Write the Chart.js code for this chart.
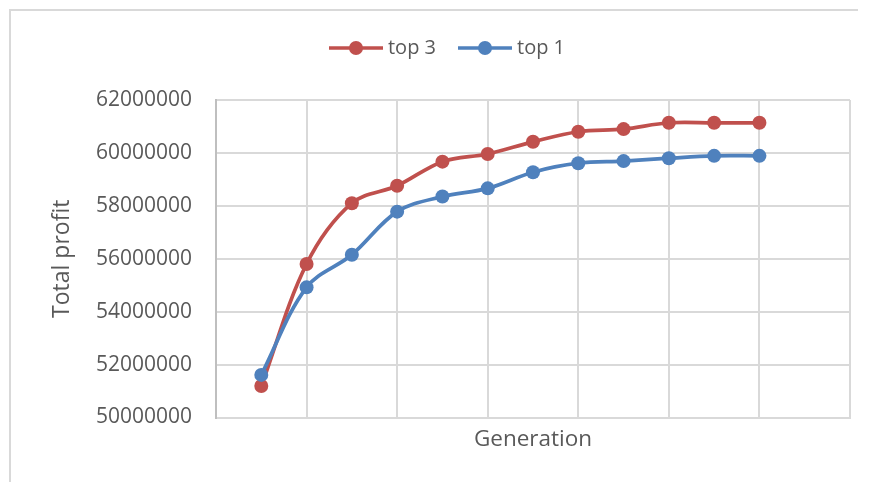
<!DOCTYPE html>
<html>
<head>
<meta charset="utf-8">
<script src="https://cdn.jsdelivr.net/npm/chart.js@4.4.1/dist/chart.umd.min.js"></script>
<style>
  html, body { margin: 0; padding: 0; background: #ffffff; }
  #wrap { position: relative; width: 869px; height: 482px; }
</style>
</head>
<body>
<div id="wrap"><canvas id="chart" width="869" height="482"></canvas></div>
<script>
// Generations 1..12 and the total profit reached by each selection strategy
const generations = [1, 2, 3, 4, 5, 6, 7, 8, 9, 10, 11, 12];
const top3Profit = [51190000, 55800000, 58100000, 58760000, 59670000, 59960000,
                    60420000, 60800000, 60900000, 61140000, 61140000, 61140000];
const top1Profit = [51610000, 54920000, 56150000, 57780000, 58350000, 58660000,
                    59270000, 59610000, 59690000, 59800000, 59890000, 59890000];
const seriesNames = ['top 3', 'top 1'];
const seriesColors = ['#C0504D', '#4F81BD'];
const yTicks = [50000000, 52000000, 54000000, 56000000, 58000000, 60000000, 62000000];

const FONT = '"Open Sans", "Liberation Sans", sans-serif';
const TEXT = '#595959';
const GRID = '#d9d9d9';

// Legend swatch: a short line with a round marker in the middle
function swatch(color) {
  const c = document.createElement('canvas');
  c.width = 54; c.height = 16;
  const g = c.getContext('2d');
  g.strokeStyle = color; g.lineWidth = 3.5;
  g.beginPath(); g.moveTo(0, 8); g.lineTo(54, 8); g.stroke();
  g.fillStyle = color;
  g.beginPath(); g.arc(27, 8, 7, 0, Math.PI * 2); g.fill();
  return c;
}

const toPoints = vals => generations.map((g, i) => ({x: g, y: vals[i]}));

const frame = {
  id: 'frame',
  beforeInit(chart) {
    // extra room between the legend and the plot
    const lg = chart.legend;
    if (lg) {
      const fit = lg.fit;
      lg.fit = function () { fit.call(this); this.height += 32; };
    }
  },
  beforeDraw(chart) {
    const ctx = chart.ctx;
    ctx.save();
    ctx.strokeStyle = GRID;
    ctx.lineWidth = 2;
    ctx.beginPath();
    ctx.moveTo(10, 482); ctx.lineTo(10, 10); ctx.lineTo(858, 10);
    ctx.stroke();
    ctx.restore();
  }
};

const datasets = [top3Profit, top1Profit].map((vals, i) => ({
  label: seriesNames[i],
  data: toPoints(vals),
  borderColor: seriesColors[i],
  backgroundColor: seriesColors[i],
  pointBackgroundColor: seriesColors[i],
  pointBorderColor: seriesColors[i],
  borderWidth: 3.75,
  pointRadius: 7,
  pointBorderWidth: 0,
  tension: 0.35,
  order: i === 0 ? 2 : 1
}));

new Chart(document.getElementById('chart'), {
  type: 'line',
  data: { datasets },
  plugins: [frame],
  options: {
    responsive: false,
    animation: false,
    devicePixelRatio: 1,
    layout: { padding: { left: 49, right: 19, top: 11, bottom: 0 } },
    plugins: {
      tooltip: { enabled: false },
      legend: {
        position: 'top',
        labels: {
          usePointStyle: true,
          pointStyleWidth: 44,
          padding: 27,
          color: TEXT,
          font: { family: FONT, size: 20 },
          generateLabels(chart) {
            return chart.data.datasets.map((ds, i) => ({
              text: ds.label,
              pointStyle: swatch(ds.borderColor),
              fillStyle: ds.borderColor,
              strokeStyle: ds.borderColor,
              fontColor: TEXT,
              lineWidth: 0,
              hidden: false,
              datasetIndex: i
            }));
          }
        }
      }
    },
    scales: {
      x: {
        type: 'linear',
        min: 0,
        max: 14,
        ticks: { display: false, stepSize: 2 },
        grid: { color: GRID, lineWidth: 2, drawTicks: false },
        border: { color: GRID, width: 2 },
        title: {
          display: true,
          text: 'Generation',
          color: TEXT,
          font: { family: FONT, size: 22.5 },
          padding: { top: 0, bottom: 29 }
        },
        afterFit(s) { s.height = 64.5; }
      },
      y: {
        min: 50000000,
        max: 62000000,
        afterBuildTicks(s) { s.ticks = yTicks.map(v => ({ value: v })); },
        ticks: {
          color: TEXT,
          padding: 24,
          font: { family: FONT, size: 21 },
          callback: v => String(v)
        },
        grid: { color: GRID, lineWidth: 2, drawTicks: false },
        border: { color: '#bfbfbf', width: 2 },
        title: {
          display: true,
          text: 'Total profit',
          color: TEXT,
          font: { family: FONT, size: 23 },
          padding: { top: 0, bottom: 0 }
        },
        afterFit(s) { s.width = 167; }
      }
    }
  }
});
</script>
</body>
</html>
